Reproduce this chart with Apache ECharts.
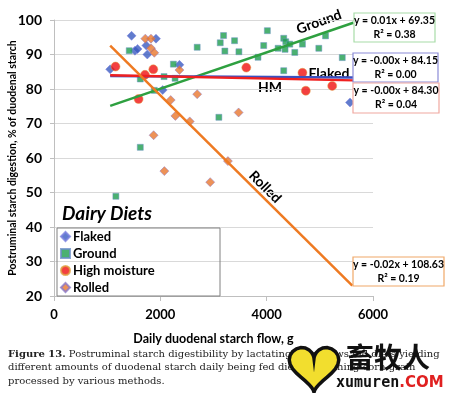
<!DOCTYPE html>
<html><head><meta charset="utf-8">
<script src="https://cdn.jsdelivr.net/npm/echarts@6/dist/echarts.min.js"></script>
<style>html,body{margin:0;padding:0;background:#fff}#c{width:458px;height:393px}</style>
</head><body><div id="c"></div>
<script>
// ---- data ----
const flaked = [[1057,85.7],[1459,95.4],[1522,91.1],[1572,91.6],[1736,92.6],[1755,90.0],[1918,94.6],[2359,87.0],[2044,79.7],[5567,76.1]];
const ground = [[1164,48.9],[1415,91.1],[1623,82.9],[1623,63.1],[1887,79.6],[2070,83.6],[2246,87.2],[2277,83.1],[2693,92.1],[3101,71.8],[3127,93.4],[3189,95.5],[3214,91.0],[3396,94.0],[3478,90.8],[3837,89.2],[3944,92.6],[4013,96.9],[4215,91.8],[4321,94.7],[4359,93.7],[4435,93.0],[4346,91.5],[4529,90.6],[4321,85.3],[4673,93.0],[4981,91.8],[5107,95.4],[5422,89.1]];
const highMoisture = [[1157,86.5],[1591,77.1],[1711,84.1],[1868,85.7],[3617,86.2],[4673,84.7],[4736,79.5],[5233,80.9]];
const rolled = [[1717,94.6],[1824,94.6],[1824,91.8],[1887,90.5],[2359,85.5],[2195,76.8],[2283,72.2],[2553,70.6],[2693,78.5],[1874,66.6],[2076,56.2],[2938,53.0],[3271,59.1],[3472,73.2]];
const groundTrend = [[1057,75.1],[5630,99.2]];
const flakedTrend = [[1057,83.8],[5630,83.3]];
const hmTrend = [[1057,84.0],[5630,82.5]];
const rolledTrend = [[1057,92.6],[5610,23.0]];
const seriesNames = ['Flaked','Ground','High moisture','Rolled'];
const equations = {
  ground: ['y = 0.01x + 69.35','R² = 0.38'],
  flaked: ['y = -0.00x + 84.15','R² = 0.00'],
  hm: ['y = -0.00x + 84.30','R² = 0.04'],
  rolled: ['y = -0.02x + 108.63','R² = 0.19']
};
const captionLines = ['Postruminal starch digestibility by lactating dairy cows fed diets yielding',
  'different amounts of duodenal starch daily being fed diets containing corn grain',
  'processed by various methods.'];

const C = {blue:'#3A5BC0', green:'#1E9E4E', red:'#F01010', orange:'#E8772E',
  gLine:'#2EA040', bLine:'#3A50C0', rLine:'#F02020', oLine:'#EE7A22'};
const F = 'Lato, "Open Sans", sans-serif';
const SERIF = '"DejaVu Serif", serif';

const chart = echarts.init(document.getElementById('c'));

function eqBox(x,y,w,h,border,lines){
  return [
    {type:'rect', shape:{x:x,y:y,width:w,height:h}, style:{fill:'#fff', stroke:border, lineWidth:1.2}, z:10},
    {type:'text', x:x+w/2, y:y+h/2, style:{text:lines.join('\n'), fill:'#000', font:'bold 10.5px '+F, align:'center', verticalAlign:'middle', lineHeight:14}, z:11}
  ];
}
// heart outline for the watermark logo
const heartPts = [];
for (let i=0;i<40;i++){ const t=i/40*2*Math.PI;
  const hx=16*Math.pow(Math.sin(t),3), hy=13*Math.cos(t)-5*Math.cos(2*t)-2*Math.cos(3*t)-Math.cos(4*t);
  heartPts.push([314+hx*1.55, 366-hy*1.55]); }

const option = {
  animation:false,
  grid:{left:54, right:85, top:20, bottom:97, containLabel:false, outerBoundsMode:'none'},
  xAxis:{type:'value', min:0, max:6000, interval:2000,
    name:'Daily duodenal starch flow, g', nameLocation:'middle', nameGap:36, nameMoveOverlap:false,
    nameTextStyle:{color:'#000', fontWeight:'bold', fontSize:12.5, fontFamily:F},
    axisLine:{show:true, onZero:false, lineStyle:{color:'#BFBFBF', width:1}},
    axisTick:{show:true, length:5, lineStyle:{color:'#BFBFBF'}},
    axisLabel:{color:'#000', fontWeight:'bold', fontSize:13, fontFamily:F, margin:12, formatter:v=>String(v)},
    splitLine:{show:false}},
  yAxis:{type:'value', min:20, max:100, interval:10,
    name:'Postruminal starch digestion, % of duodenal starch', nameLocation:'middle', nameGap:36, nameMoveOverlap:false,
    nameTextStyle:{color:'#000', fontWeight:'bold', fontSize:10.5, fontFamily:F},
    axisLine:{show:true, lineStyle:{color:'#BFBFBF'}},
    axisTick:{show:true, length:4, lineStyle:{color:'#BFBFBF'}},
    axisLabel:{color:'#000', fontWeight:'bold', fontSize:14, fontFamily:F, margin:12},
    splitLine:{show:true, lineStyle:{color:'#D9D9D9', width:1}}},
  legend:{show:true, data:seriesNames, orient:'vertical', left:56, top:228, itemGap:4,
    itemWidth:9, itemHeight:9, padding:[2,4],
    textStyle:{color:'#000', fontWeight:'bold', fontSize:13, fontFamily:F, padding:[0,0,0,-2]}},
  series:[
    {name:'Flaked', type:'scatter', data:flaked, symbol:'diamond', symbolSize:9,
      itemStyle:{color:C.blue, borderColor:'#7B7FE0', borderWidth:0.6}, z:3},
    {name:'Ground', type:'scatter', data:ground, symbol:'rect', symbolSize:6,
      itemStyle:{color:C.green, borderColor:'#6C8FC8', borderWidth:0.6}, z:3},
    {name:'High moisture', type:'scatter', data:highMoisture, symbol:'circle', symbolSize:9,
      itemStyle:{color:C.red, borderColor:'#E0A040', borderWidth:0.6}, z:3},
    {name:'Rolled', type:'scatter', data:rolled, symbol:'diamond', symbolSize:9,
      itemStyle:{color:C.orange, borderColor:'#8A78C8', borderWidth:0.6}, z:3},
    {type:'line', data:groundTrend, showSymbol:false, silent:true, lineStyle:{color:C.gLine, width:2.5}, z:4},
    {type:'line', data:flakedTrend, showSymbol:false, silent:true, lineStyle:{color:C.bLine, width:2.5}, z:4},
    {type:'line', data:hmTrend, showSymbol:false, silent:true, lineStyle:{color:C.rLine, width:2.5}, z:4},
    {type:'line', data:rolledTrend, showSymbol:false, silent:true, lineStyle:{color:C.oLine, width:2.5}, z:4}
  ],
  graphic:[
    {type:'rect', shape:{x:57,y:228,width:163,height:68}, style:{fill:'rgba(255,255,255,0)', stroke:'#808080', lineWidth:1}, z:1},
    {type:'text', x:62, y:204, style:{text:'Dairy Diets', fill:'#000', font:'italic bold 19px '+F}},
    {type:'text', x:319, y:22, rotation:20*Math.PI/180, style:{text:'Ground', fill:'#000', font:'bold 14px '+F, align:'center', verticalAlign:'middle'}},
    {type:'text', x:329, y:73, style:{text:'Flaked', fill:'#000', font:'bold 14px '+F, align:'center', verticalAlign:'middle'}},
    {type:'text', x:270, y:87, style:{text:'HM', fill:'#000', font:'bold 14px '+F, align:'center', verticalAlign:'middle'}},
    {type:'text', x:265, y:187, rotation:-45*Math.PI/180, style:{text:'Rolled', fill:'#000', font:'bold 14px '+F, align:'center', verticalAlign:'middle'}},
    ...eqBox(354,13,81,29,'#A8DCA8',equations.ground),
    ...eqBox(353,53,85,29,'#8C8CD8',equations.flaked),
    ...eqBox(353,83,86,30,'#F0A8A0',equations.hm),
    ...eqBox(353,257,91,29,'#F0A868',equations.rolled),
    {type:'text', x:8, y:349, style:{text:'{b|Figure 13.} '+captionLines[0], fill:'#222', font:'10px '+SERIF,
      rich:{b:{fontWeight:'bold', fontSize:10, fontFamily:SERIF, fill:'#222'}}}},
    {type:'text', x:8, y:362.5, style:{text:captionLines[1], fill:'#222', font:'10px '+SERIF}},
    {type:'text', x:8, y:376, style:{text:captionLines[2], fill:'#222', font:'10px '+SERIF}},
    {type:'polygon', shape:{points:heartPts}, style:{fill:'#F2DE2E', stroke:'#111', lineWidth:3.5}, z:20},
    {type:'text', x:346, y:343, style:{text:'畜牧人', fill:'#111', font:'bold 28px "Noto Sans CJK SC", sans-serif'}, z:20},
    {type:'text', x:336, y:376, style:{text:'{k|xumuren}{r|.COM}', rich:{k:{fill:'#111', font:'bold 15px "DejaVu Sans Mono", monospace'}, r:{fill:'#E02020', font:'bold 15px "DejaVu Sans", sans-serif'}}}, z:20}
  ]
};
chart.setOption(option);
</script></body></html>
